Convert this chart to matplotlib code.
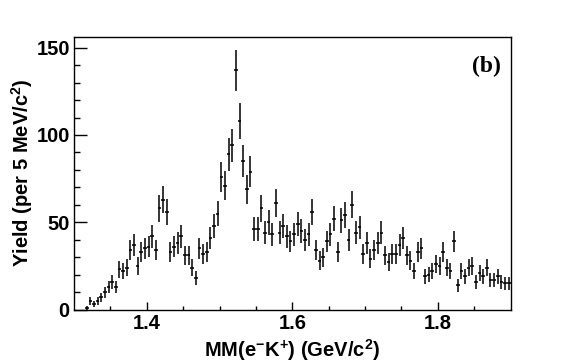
import matplotlib
matplotlib.use("Agg")
import matplotlib.pyplot as plt
import numpy as np

# histogram: 5 MeV bins, first filled bin centre at 1.3175 GeV
bin_width = 0.005
first_center = 1.3175
counts = [1, 5, 3, 5, 7, 10, 13, 16, 13, 23,
          22, 24, 34, 37, 25, 33, 35, 36, 42, 34,
          58, 63, 56, 33, 36, 38, 42, 31, 31, 24,
          18, 35, 32, 33, 41, 48, 55, 76, 71, 89,
          94, 137, 108, 85, 69, 79, 46, 46, 58, 44,
          50, 43, 61, 44, 48, 42, 39, 43, 49, 45,
          40, 43, 56, 34, 28, 30, 39, 43, 52, 33,
          51, 54, 40, 60, 44, 47, 32, 38, 29, 34,
          38, 44, 31, 27, 32, 32, 37, 41, 31, 28,
          22, 33, 35, 19, 20, 22, 26, 25, 33, 24,
          22, 39, 14, 22, 19, 24, 25, 16, 21, 19,
          24, 17, 17, 19, 16, 15, 15]

x_ticks = [1.4, 1.6, 1.8]
y_ticks = [0, 50, 100, 150]

counts = np.array(counts, dtype=float)
centers = first_center + bin_width * np.arange(len(counts))
errors = np.sqrt(counts)

sans = "Liberation Sans"
plt.rcParams["mathtext.fontset"] = "custom"
plt.rcParams["mathtext.rm"] = "Liberation Sans:bold"
plt.rcParams["mathtext.it"] = "Liberation Sans:bold"
plt.rcParams["mathtext.bf"] = "Liberation Sans:bold"

fig = plt.figure(figsize=(5.67, 3.64), dpi=100)
ax = fig.add_axes([74 / 567, 1 - 309.5 / 364, (510.5 - 74) / 567, (309.5 - 36.7) / 364])

ax.errorbar(centers, counts, yerr=errors, xerr=bin_width / 2, fmt="none",
            ecolor="black", elinewidth=1.1, capsize=0)

ax.set_xlim(1.3, 1.9)
ax.set_ylim(0, 156.3)
ax.set_xticks(x_ticks)
ax.set_xticks(np.arange(1.35, 1.9, 0.05), minor=True)
ax.set_yticks(y_ticks)
ax.set_yticks(np.arange(0, 157, 10), minor=True)
ax.set_xticklabels(["%.1f" % v for v in x_ticks], fontfamily=sans, fontweight="bold", fontsize=14.5)
ax.set_yticklabels([str(v) for v in y_ticks], fontfamily=sans, fontweight="bold", fontsize=14.5)

ax.tick_params(axis="x", which="major", direction="in", length=5.8, width=1, pad=3)
ax.tick_params(axis="x", which="minor", direction="in", length=3, width=1)
ax.tick_params(axis="y", which="major", direction="in", length=9, width=1, pad=3)
ax.tick_params(axis="y", which="minor", direction="in", length=4.3, width=1)
for s in ax.spines.values():
    s.set_linewidth(1)

ax.set_xlabel(r"MM(e$^{-}$K$^{+}$) (GeV/c$^{2}$)",
              fontfamily=sans, fontweight="bold", fontsize=14.5, labelpad=3)
ax.set_ylabel(r"Yield (per 5 MeV/c$^{2}$)",
              fontfamily=sans, fontweight="bold", fontsize=14.5, labelpad=1)

ax.text(0.977, 0.93, "(b)", transform=ax.transAxes, ha="right", va="top",
        fontfamily="Liberation Serif", fontweight="bold", fontsize=17)

fig.savefig("out.png", dpi=100)
